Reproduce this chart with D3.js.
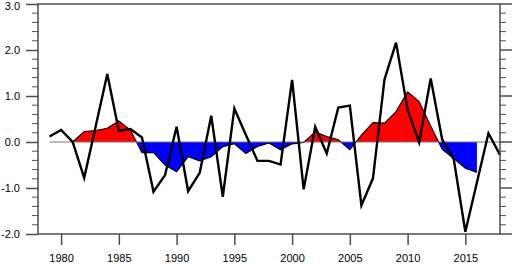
<!DOCTYPE html>
<html><head><meta charset="utf-8">
<script src="https://cdn.jsdelivr.net/npm/d3@7"></script>
<style>body{margin:0;background:#fff}svg{display:block}</style>
</head><body>
<script>
const years = d3.range(1979, 2019);
const annual = [0.12,0.26,0.00,-0.78,0.35,1.48,0.24,0.28,0.10,-1.08,-0.72,0.33,
  -1.07,-0.67,0.57,-1.19,0.73,0.15,-0.41,-0.41,-0.49,1.35,-1.03,0.33,-0.25,0.75,
  0.79,-1.38,-0.79,1.36,2.16,0.70,-0.01,1.38,0.05,-0.38,-1.95,-0.88,0.19,-0.28];
const smoothYears = d3.range(1981, 2017);
const smooth = [0.00,0.23,0.25,0.30,0.46,0.26,-0.23,-0.23,-0.50,-0.65,-0.32,-0.41,
  -0.32,-0.10,-0.04,-0.25,-0.10,-0.02,-0.17,-0.04,-0.01,0.22,0.12,0.05,-0.17,0.15,
  0.42,0.41,0.66,1.09,0.88,0.35,-0.16,-0.36,-0.57,-0.66];
const xTicks = [1980,1985,1990,1995,2000,2005,2010,2015];
const yTicks = [-2,-1,0,1,2,3];

const W=512,H=264, L=38,R=500,T=4,B=234;
const svg=d3.select("body").append("svg").attr("width",W).attr("height",H);
const x=d3.scaleLinear().domain([1978,2018]).range([L,R]);
const y=d3.scaleLinear().domain([-2,3]).range([B,T]);

const pts=[];
for(let i=0;i<smooth.length;i++){
  const p={t:smoothYears[i],v:smooth[i]};
  if(i>0){
    const a={t:smoothYears[i-1],v:smooth[i-1]};
    if(a.v*p.v<0){
      const f=a.v/(a.v-p.v);
      pts.push({t:a.t+f*(p.t-a.t),v:0});
    }
  }
  pts.push(p);
}
const areaPos=d3.area().x(d=>x(d.t)).y0(y(0)).y1(d=>y(Math.max(d.v,0)));
const areaNeg=d3.area().x(d=>x(d.t)).y0(y(0)).y1(d=>y(Math.min(d.v,0)));
svg.append("path").attr("d",areaPos(pts)).attr("fill","#ff0000");
svg.append("path").attr("d",areaNeg(pts)).attr("fill","#0000ff");
svg.append("path").attr("d",d3.line().x(d=>x(d.t)).y(d=>y(d.v))(pts))
  .attr("fill","none").attr("stroke","#000").attr("stroke-width",1.1);

svg.append("line").attr("x1",x(1979)).attr("x2",R).attr("y1",y(0)).attr("y2",y(0))
  .attr("stroke","#777").attr("stroke-width",1);

svg.append("path").datum(annual)
  .attr("d",d3.line().x((d,i)=>x(years[i])).y(d=>y(d)))
  .attr("fill","none").attr("stroke","#000").attr("stroke-width",2.4)
  .attr("stroke-linejoin","miter");

const ax="#4d4d4d";
svg.append("rect").attr("x",L).attr("y",T).attr("width",R-L).attr("height",B-T)
  .attr("fill","none").attr("stroke",ax).attr("stroke-width",1.5);

const font="'Liberation Sans',Arial,Helvetica,sans-serif";
const xa=svg.append("g").attr("transform",`translate(0,${B})`)
  .call(d3.axisBottom(x).tickValues(xTicks).tickFormat(d3.format("d")).tickSize(11).tickPadding(9));
xa.select(".domain").remove();
xa.selectAll("line").attr("stroke",ax).attr("stroke-width",1.5);
xa.selectAll("text").attr("font-family",font).attr("font-size",11).attr("fill","#000");

const ya=svg.append("g").attr("transform",`translate(${L},0)`)
  .call(d3.axisLeft(y).tickValues(yTicks).tickFormat(d3.format(".1f")).tickSize(12).tickPadding(6));
ya.select(".domain").remove();
ya.selectAll("line").attr("stroke",ax).attr("stroke-width",1.5);
ya.selectAll("text").attr("font-family",font).attr("font-size",11).attr("fill","#000")
  .text(d=>d<0?"-"+Math.abs(d).toFixed(1):d.toFixed(1))
  .attr("y",d=>d===3?2:0);
const minor=d3.range(-2,3.001,0.2).filter(v=>Math.abs(v-Math.round(v))>0.01);
ya.selectAll(".mn").data(minor).enter().append("line")
  .attr("x1",0).attr("x2",-6).attr("y1",d=>y(d)).attr("y2",d=>y(d))
  .attr("stroke",ax).attr("stroke-width",1);
const yr=svg.append("g").attr("transform",`translate(${R},0)`);
yr.selectAll(".mj").data(yTicks).enter().append("line")
  .attr("x1",0).attr("x2",12).attr("y1",d=>y(d)).attr("y2",d=>y(d))
  .attr("stroke",ax).attr("stroke-width",1.5);
yr.selectAll(".mn").data(minor).enter().append("line")
  .attr("x1",0).attr("x2",6).attr("y1",d=>y(d)).attr("y2",d=>y(d))
  .attr("stroke",ax).attr("stroke-width",1);
</script>
</body></html>
